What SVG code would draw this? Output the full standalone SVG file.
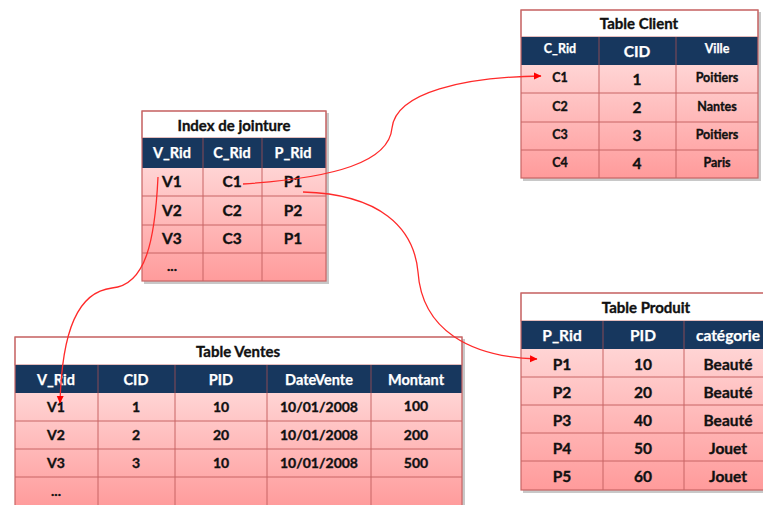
<svg xmlns="http://www.w3.org/2000/svg" width="763" height="505" viewBox="0 0 763 505">
<defs>
  <linearGradient id="body" x1="0" y1="0" x2="0" y2="1">
    <stop offset="0" stop-color="#FFD4D4"/>
    <stop offset="1" stop-color="#FF9B9B"/>
  </linearGradient>
  <marker id="arr" markerWidth="8" markerHeight="8" refX="7" refY="4" orient="auto" markerUnits="userSpaceOnUse">
    <path d="M0,0.5 L7.5,4 L0,7.5 Z" fill="#FF0000"/>
  </marker>
  <style>
    text { font-family: Lato, "Open Sans", "Liberation Sans", sans-serif; font-weight: bold; text-anchor: middle; }
    .ti { font-size: 15px; fill: #111; stroke: #111; stroke-width: 0.35; }
    .h { font-size: 14.5px; fill: #ffffff; stroke: #ffffff; stroke-width: 0.25; }
    .v { font-size: 14px; fill: #111; stroke: #111; stroke-width: 0.35; }
    .s { font-size: 12.5px; }
    .big { font-size: 15.5px; }
    .p { font-size: 15.5px; }
    .shadow { fill: #9a9a9a; opacity: 0.55; }
    .title { fill: #ffffff; stroke: #C97B7B; stroke-width: 1; }
    .head { fill: #17375E; }
    .bodyr { fill: url(#body); }
    .grid { stroke: #C86464; stroke-width: 1; fill: none; }
    .gridw { stroke: #8a4a55; stroke-width: 1; fill: none; }
    .outer { fill: none; stroke: #C86464; stroke-width: 1.2; }
    .conn { fill: none; stroke: #FF2A2A; stroke-width: 1.3; }
  </style>
</defs>

<g id="table-client">
  <rect class="shadow" x="523" y="12" width="238" height="169"/>
  <rect class="title" x="521" y="10" width="237" height="27"/>
  <rect class="head" x="521" y="37" width="237" height="28"/>
  <rect class="bodyr" x="521" y="65" width="237" height="113"/>
  <path class="grid" d="M521,93 H758 M521,122 H758 M521,150 H758 M599,65 V178 M676,65 V178"/>
  <path class="gridw" d="M599,37 V65 M676,37 V65"/>
  <rect class="outer" x="521" y="10" width="237" height="168"/>
  <text class="ti" x="639" y="28.5">Table Client</text>
  <text class="h s" x="560" y="53">C_Rid</text>
  <text class="h big" x="637" y="57">CID</text>
  <text class="h s" x="717" y="53">Ville</text>
  <text class="v s" x="560" y="82">C1</text>
  <text class="v big" x="637" y="85">1</text>
  <text class="v s" x="717" y="82">Poitiers</text>
  <text class="v s" x="560" y="111">C2</text>
  <text class="v big" x="637" y="113">2</text>
  <text class="v s" x="717" y="111">Nantes</text>
  <text class="v s" x="560" y="139">C3</text>
  <text class="v big" x="637" y="141">3</text>
  <text class="v s" x="717" y="139">Poitiers</text>
  <text class="v s" x="560" y="167">C4</text>
  <text class="v big" x="637" y="169">4</text>
  <text class="v s" x="717" y="167">Paris</text>
</g>

<g id="index-jointure">
  <rect class="shadow" x="144" y="113" width="185" height="171"/>
  <rect class="title" x="142" y="111" width="184" height="27"/>
  <rect class="head" x="142" y="138" width="184" height="30"/>
  <rect class="bodyr" x="142" y="168" width="184" height="113"/>
  <path class="grid" d="M142,196 H326 M142,225 H326 M142,253 H326 M203,168 V281 M262,168 V281"/>
  <path class="gridw" d="M203,138 V168 M262,138 V168"/>
  <rect class="outer" x="142" y="111" width="184" height="170"/>
  <text class="ti" x="234" y="131">Index de jointure</text>
  <text class="h" x="172" y="158">V_Rid</text>
  <text class="h" x="232" y="158">C_Rid</text>
  <text class="h" x="293" y="158">P_Rid</text>
  <text class="v big" x="172" y="187">V1</text>
  <text class="v big" x="232" y="187">C1</text>
  <text class="v big" x="293" y="187">P1</text>
  <text class="v big" x="172" y="216">V2</text>
  <text class="v big" x="232" y="216">C2</text>
  <text class="v big" x="293" y="216">P2</text>
  <text class="v big" x="172" y="244">V3</text>
  <text class="v big" x="232" y="244">C3</text>
  <text class="v big" x="293" y="244">P1</text>
  <text class="v" x="172" y="271">...</text>
</g>

<g id="table-ventes">
  <rect class="shadow" x="17" y="339" width="448" height="170"/>
  <rect class="title" x="15" y="337" width="447" height="28"/>
  <rect class="head" x="15" y="365" width="447" height="28"/>
  <rect class="bodyr" x="15" y="393" width="447" height="115"/>
  <path class="grid" d="M15,421 H462 M15,449 H462 M15,477 H462 M98,393 V508 M175,393 V508 M267,393 V508 M371,393 V508"/>
  <path class="gridw" d="M98,365 V393 M175,365 V393 M267,365 V393 M371,365 V393"/>
  <rect class="outer" x="15" y="337" width="447" height="171"/>
  <text class="ti" x="238" y="356.5">Table Ventes</text>
  <text class="h" x="56" y="384.5">V_Rid</text>
  <text class="h" x="136" y="384.5">CID</text>
  <text class="h" x="221" y="384.5">PID</text>
  <text class="h" x="319" y="384.5">DateVente</text>
  <text class="h" x="416" y="384.5">Montant</text>
  <text class="v" x="56" y="412">V1</text>
  <text class="v" x="136" y="412">1</text>
  <text class="v" x="221" y="412">10</text>
  <text class="v" x="319" y="412">10/01/2008</text>
  <text class="v" x="416" y="411">100</text>
  <text class="v" x="56" y="440">V2</text>
  <text class="v" x="136" y="440">2</text>
  <text class="v" x="221" y="440">20</text>
  <text class="v" x="319" y="440">10/01/2008</text>
  <text class="v" x="416" y="440">200</text>
  <text class="v" x="56" y="468">V3</text>
  <text class="v" x="136" y="468">3</text>
  <text class="v" x="221" y="468">10</text>
  <text class="v" x="319" y="468">10/01/2008</text>
  <text class="v" x="416" y="468">500</text>
  <text class="v" x="56" y="496">...</text>
</g>

<g id="table-produit">
  <rect class="shadow" x="523" y="295" width="252" height="198"/>
  <rect class="title" x="521" y="293" width="251" height="28"/>
  <rect class="head" x="521" y="321" width="251" height="28"/>
  <rect class="bodyr" x="521" y="349" width="251" height="141"/>
  <path class="grid" d="M521,377 H772 M521,405 H772 M521,433 H772 M521,461 H772 M603,349 V490 M684,349 V490"/>
  <path class="gridw" d="M603,321 V349 M684,321 V349"/>
  <rect class="outer" x="521" y="293" width="251" height="197"/>
  <text class="ti" x="646" y="312.5">Table Produit</text>
  <text class="h p" x="562" y="341">P_Rid</text>
  <text class="h p" x="643" y="341">PID</text>
  <text class="h p" x="728" y="341">catégorie</text>
  <text class="v p" x="562" y="369.5">P1</text>
  <text class="v p" x="643" y="369.5">10</text>
  <text class="v p" x="728" y="369.5">Beauté</text>
  <text class="v p" x="562" y="397.5">P2</text>
  <text class="v p" x="643" y="397.5">20</text>
  <text class="v p" x="728" y="397.5">Beauté</text>
  <text class="v p" x="562" y="425.5">P3</text>
  <text class="v p" x="643" y="425.5">40</text>
  <text class="v p" x="728" y="425.5">Beauté</text>
  <text class="v p" x="562" y="453.5">P4</text>
  <text class="v p" x="643" y="453.5">50</text>
  <text class="v p" x="728" y="453.5">Jouet</text>
  <text class="v p" x="562" y="481.5">P5</text>
  <text class="v p" x="643" y="481.5">60</text>
  <text class="v p" x="728" y="481.5">Jouet</text>
</g>

<g id="connectors">
  <path class="conn" d="M243,184 C335,178 389,162 392,128 C396,92 465,77 541,76" marker-end="url(#arr)"/>
  <path class="conn" d="M303,192 C380,194 414,228 418,272 C422,330 470,357 537,359" marker-end="url(#arr)"/>
  <path class="conn" d="M158,177 C155,240 146,285 112,288 C78,292 62,330 60,403" marker-end="url(#arr)"/>
</g>
</svg>
